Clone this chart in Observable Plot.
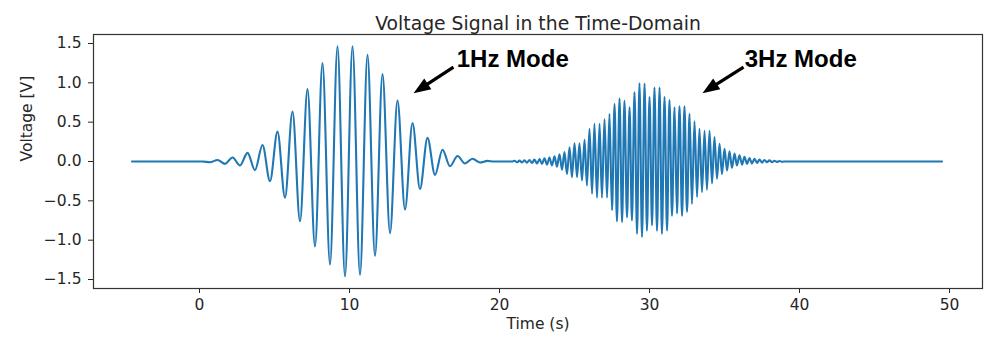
<!DOCTYPE html>
<html><head><meta charset="utf-8">
<script src="https://cdn.jsdelivr.net/npm/d3@7"></script>
<script src="https://cdn.jsdelivr.net/npm/@observablehq/plot@0.6"></script>
<style>body{margin:0;background:#fff;} #chart svg{display:block}</style>
</head><body><div id="chart"></div>
<script>
// Flat baseline segments (signal ≈ 0)
const baselineTime = [-4.5, 0.2, 19.6, 20.85, 38.95, 49.5];
const baselineVolt = [0, 0, 0, 0, 0, 0];

// 1 Hz mode: successive peaks / troughs
const mode1Time = [0.7,1.2,1.7,2.2,2.7,3.2,3.7,4.2,4.7,5.2,5.7,6.2,6.7,7.2,7.7,8.2,8.7,9.2,9.7,10.2,10.7,11.2,11.7,12.2,12.7,13.2,13.7,14.2,14.7,15.2,15.7,16.2,16.7,17.2,17.7,18.2,18.7,19.2];
const mode1Volt = [-0.01,0.02,-0.03,0.05,-0.05,0.11,-0.11,0.21,-0.25,0.38,-0.46,0.635,-0.76,0.92,-1.08,1.25,-1.31,1.465,-1.46,1.465,-1.44,1.355,-1.2,1.11,-0.91,0.775,-0.61,0.49,-0.35,0.3,-0.17,0.15,-0.06,0.07,-0.025,0.035,-0.012,0.008];

// 3 Hz mode: successive peaks / troughs
const mode3Time = [21.0,21.17,21.33,21.5,21.67,21.83,22.0,22.17,22.33,22.5,22.67,22.83,23.0,23.17,23.33,23.5,23.67,23.83,24.0,24.17,24.33,24.5,24.67,24.83,25.0,25.17,25.33,25.5,25.67,25.83,26.0,26.17,26.33,26.5,26.67,26.83,27.0,27.17,27.33,27.5,27.67,27.83,28.0,28.17,28.33,28.5,28.67,28.83,29.0,29.17,29.33,29.5,29.67,29.83,30.0,30.17,30.33,30.5,30.67,30.83,31.0,31.17,31.33,31.5,31.67,31.83,32.0,32.17,32.33,32.5,32.67,32.83,33.0,33.17,33.33,33.5,33.67,33.83,34.0,34.17,34.33,34.5,34.67,34.83,35.0,35.17,35.33,35.5,35.67,35.83,36.0,36.17,36.33,36.5,36.67,36.83,37.0,37.17,37.33,37.5,37.67,37.83,38.0,38.17,38.33,38.5,38.67,38.83];
const mode3Volt = [0.01,-0.01,0.012,-0.012,0.015,-0.015,0.02,-0.02,0.025,-0.025,0.03,-0.03,0.04,-0.04,0.05,-0.05,0.065,-0.065,0.09,-0.105,0.12,-0.16,0.18,-0.2,0.23,-0.2,0.23,-0.24,0.275,-0.305,0.415,-0.41,0.48,-0.46,0.48,-0.46,0.54,-0.46,0.605,-0.62,0.73,-0.76,0.8,-0.77,0.77,-0.71,0.69,-0.75,0.88,-0.92,0.995,-0.96,0.99,-0.88,0.82,-0.81,0.94,-0.88,0.94,-0.92,0.82,-0.88,0.78,-0.69,0.69,-0.66,0.7,-0.69,0.7,-0.64,0.605,-0.54,0.51,-0.45,0.415,-0.39,0.39,-0.36,0.39,-0.28,0.31,-0.22,0.225,-0.16,0.16,-0.115,0.13,-0.08,0.1,-0.05,0.08,-0.04,0.06,-0.03,0.045,-0.025,0.035,-0.02,0.025,-0.015,0.02,-0.01,0.015,-0.008,0.01,-0.005,0.006,-0.004];

const xTicks = [0, 10, 20, 30, 40, 50];
const yTicks = [-1.5, -1.0, -0.5, 0.0, 0.5, 1.0, 1.5];

// Annotations (data coordinates)
const labelText = ["1Hz Mode", "3Hz Mode"];
const labelTime = [17.15, 36.35];
const labelVolt = [1.2, 1.2];
const arrowTailTime = [16.93, 36.27];
const arrowTailVolt = [1.2, 1.2];
const arrowTipTime = [14.27, 33.53];
const arrowTipVolt = [0.868, 0.868];

const signal = [];
baselineTime.forEach((t, i) => signal.push({t, v: baselineVolt[i]}));
mode1Time.forEach((t, i) => signal.push({t, v: mode1Volt[i]}));
mode3Time.forEach((t, i) => signal.push({t, v: mode3Volt[i]}));
signal.sort((a, b) => a.t - b.t);

const labels = labelText.map((s, i) => ({s, t: labelTime[i], v: labelVolt[i]}));
const arrows = arrowTailTime.map((t, i) => ({
  t1: t, v1: arrowTailVolt[i], t2: arrowTipTime[i], v2: arrowTipVolt[i],
  ts: arrowTipTime[i] + (t - arrowTipTime[i]) * 0.3,
  vs: arrowTipVolt[i] + (arrowTailVolt[i] - arrowTipVolt[i]) * 0.3
}));

// filled arrowhead pointing down-left, tip at origin
const head = {
  draw(ctx) {
    const dx = -0.838, dy = 0.546, L = 17, w = 6.5;
    const bx = -dx * L, by = -dy * L;
    const px = -dy, py = dx;
    ctx.moveTo(0, 0);
    ctx.lineTo(bx + px * w, by + py * w);
    ctx.lineTo(bx - px * w, by - py * w);
    ctx.closePath();
  }
};

const chart = Plot.plot({
  width: 989,
  height: 337,
  marginLeft: 93,
  marginRight: 7,
  marginTop: 34,
  marginBottom: 49,
  style: {fontFamily: "DejaVu Sans", fontSize: "15.5px", color: "#262626", background: "#fff"},
  x: {domain: [-7.067, 52.2]},
  y: {domain: [-1.614, 1.614]},
  marks: [
    Plot.axisX({ticks: xTicks, tickSize: 5, tickPadding: 5, tickFormat: d => String(d), label: null, fontSize: 15.5}),
    Plot.axisY({ticks: yTicks, tickSize: 5, tickPadding: 7, tickFormat: d3.format(".1f"), label: null, fontSize: 15.5}),
    Plot.line(signal, {x: "t", y: "v", stroke: "#1f77b4", strokeWidth: 2.1, curve: "monotone-x"}),
    Plot.frame({stroke: "#333", strokeWidth: 1.2}),
    Plot.link(arrows, {x1: "t1", y1: "v1", x2: "ts", y2: "vs", stroke: "black", strokeWidth: 3.2}),
    Plot.dot(arrows, {x: "t2", y: "v2", symbol: head, fill: "black", stroke: "none", r: 5}),
    Plot.text(labels, {x: "t", y: "v", text: "s", textAnchor: "start", lineAnchor: "bottom",
      fontFamily: "Liberation Sans", fontWeight: "bold", fontSize: 24, fill: "black"}),
    Plot.text(["Voltage Signal in the Time-Domain"], {frameAnchor: "top", dy: -18, fontSize: 18.8, fill: "#262626"}),
    Plot.text(["Time (s)"], {frameAnchor: "bottom", dy: 40, fontSize: 15.5, fill: "#262626"}),
    Plot.text(["Voltage [V]"], {frameAnchor: "left", dx: -66, rotate: -90, fontSize: 15.5, fill: "#262626"})
  ]
});
document.getElementById("chart").appendChild(chart);
</script>
</body></html>
